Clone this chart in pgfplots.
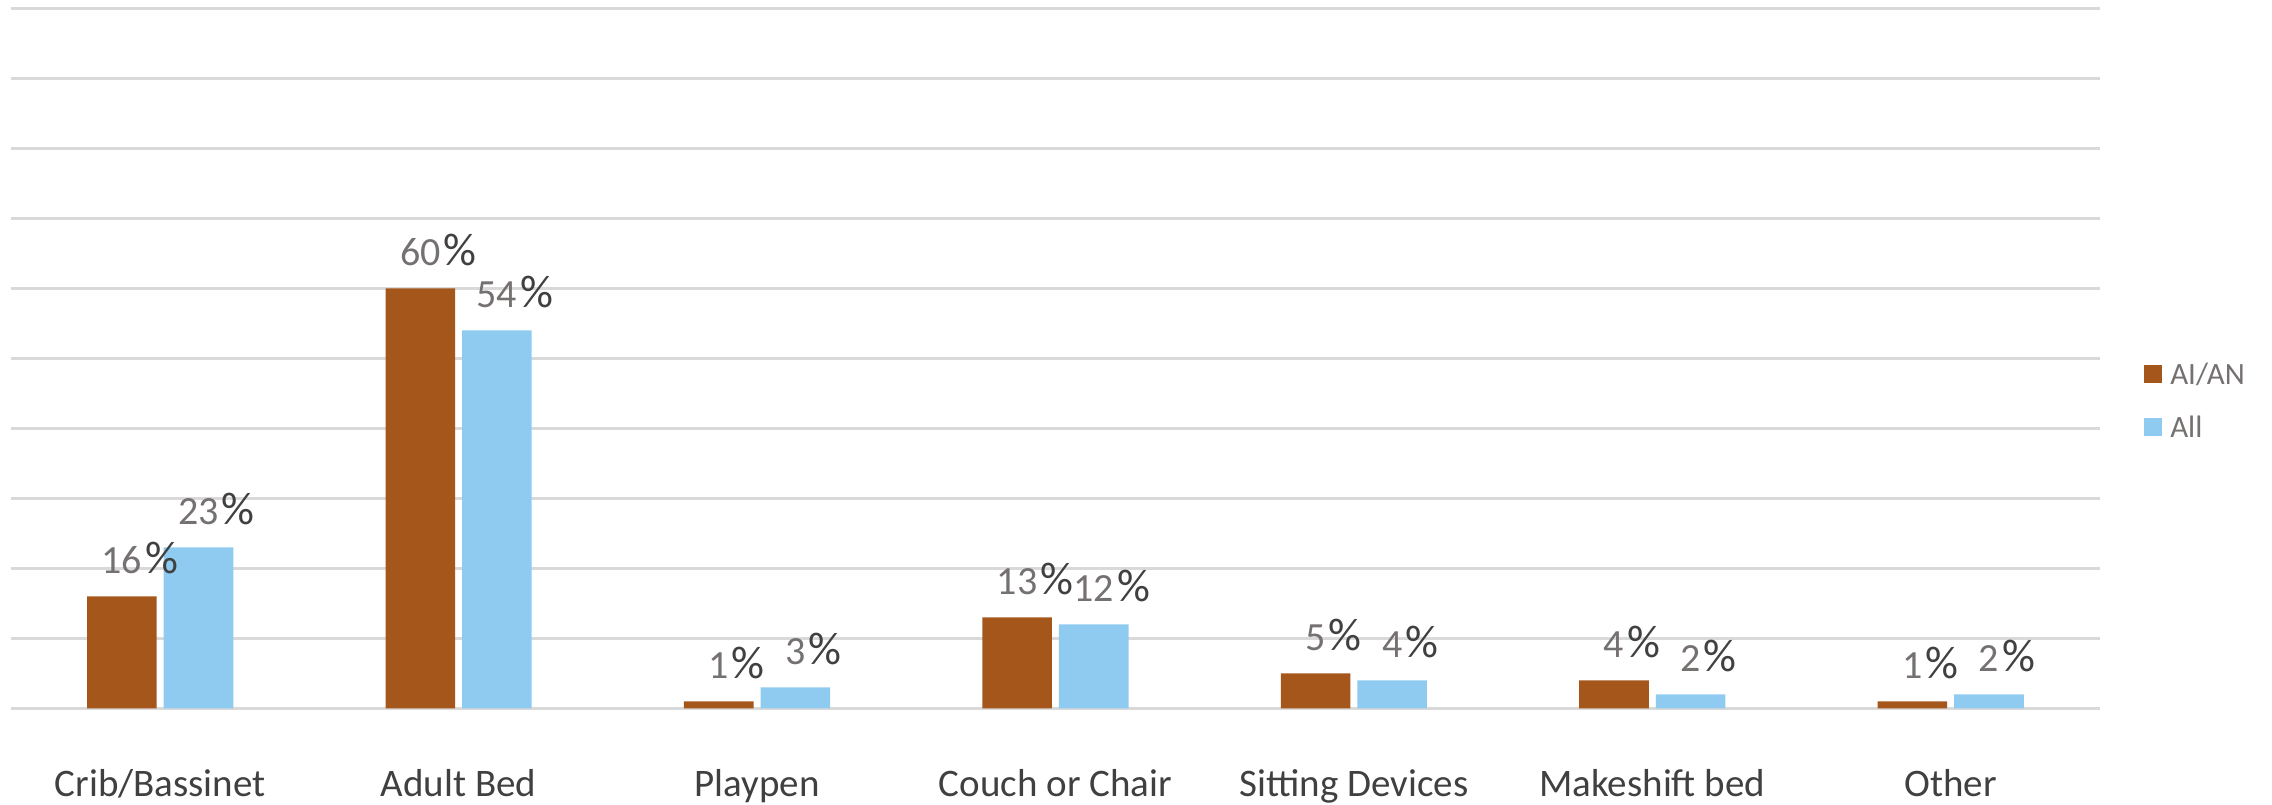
\documentclass[border=0pt]{standalone}
\usepackage{fontspec}
\setmainfont{Carlito}
\usepackage{pgfplots}
\pgfplotsset{compat=1.18}

\definecolor{aian}{RGB}{165,86,27}
\definecolor{allc}{RGB}{143,203,240}
\definecolor{gridc}{RGB}{217,217,217}
\definecolor{numc}{RGB}{118,113,113}
\definecolor{pctc}{RGB}{64,64,64}
\definecolor{catc}{RGB}{64,64,64}
\definecolor{legc}{RGB}{118,113,113}

% percent sign hangs to the right so the number stays centred on the bar
\newcommand\pct{\rlap{\hspace{1.5bp}\fontsize{23bp}{27bp}\selectfont\color{pctc}\%}}

\begin{document}
\begin{tikzpicture}
\begin{axis}[
  at={(0,0)}, anchor=south west,
  scale only axis, width=1044.5bp, height=350bp,
  xmin=-0.5, xmax=6.5, ymin=0, ymax=100,
  ybar=3.5bp, bar width=34.8bp,
  xtick={0,...,6},
  xticklabels={Crib/Bassinet, Adult Bed, Playpen, Couch or Chair, Sitting Devices, Makeshift bed, Other},
  xticklabel style={anchor=base, yshift=-43.9bp, inner sep=0pt,
    font=\fontsize{19.5bp}{23bp}\selectfont, text=catc},
  ytick={0,10,...,100}, yticklabels={},
  major tick length=0pt,
  ymajorgrids, grid style={gridc, line width=1.3bp},
  axis line style={draw=none},
  /pgf/number format/assume math mode=true,
  nodes near coords={\pgfmathprintnumber{\pgfplotspointmeta}\pct},
  every node near coord/.append style={inner sep=0pt, yshift=10.8bp,
    font=\fontsize{20bp}{24bp}\selectfont, text=numc},
  legend style={draw=none, fill=none, at={(1.02106,0.4914)}, anchor=north west,
    inner sep=0pt, row sep=16.5bp, column sep=4bp,
    nodes={inner sep=0pt, text height=10bp, text depth=0bp},
    cells={anchor=base west},
    font=\fontsize{15.5bp}{18bp}\selectfont, text=legc},
  legend image code/.code={\fill[#1] (0bp,0.8bp) rectangle (9bp,9.8bp);},
]
\addplot[fill=aian, draw=none] coordinates {
  (0,16) (1,60) (2,1) (3,13) (4,5) (5,4) (6,1)
};
\addlegendentry{AI/AN}
\addplot[fill=allc, draw=none] coordinates {
  (0,23) (1,54) (2,3) (3,12) (4,4) (5,2) (6,2)
};
\addlegendentry{All}
\end{axis}
\pgfresetboundingbox
\useasboundingbox (-5.5bp,-48.35bp) rectangle (1130.5bp,354.15bp);
\end{tikzpicture}
\end{document}
